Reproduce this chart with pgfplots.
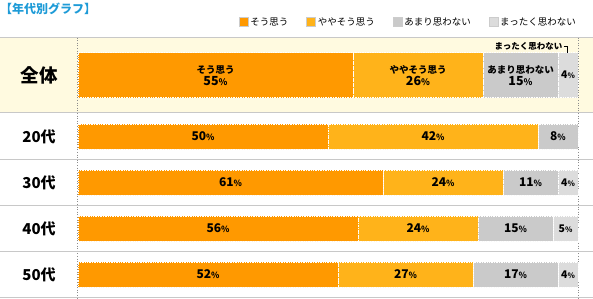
\documentclass[border=0pt]{standalone}
\usepackage{pgfplots}
\pgfplotsset{compat=1.18}
\usepackage{pgfplotstable}
\usepackage{fontspec}
\setmainfont{Noto Sans CJK JP}
\definecolor{cA}{HTML}{FF9900}
\definecolor{cB}{HTML}{FFB31A}
\definecolor{cC}{HTML}{CACACA}
\definecolor{cD}{HTML}{DCDCDC}
\definecolor{cream}{HTML}{FFFAE0}
\definecolor{rule}{HTML}{C8C8C8}
\definecolor{titleblue}{HTML}{1E9BD7}

\pgfplotstableread{
y v1 v2 v3 v4
75.2 55 26 15 4
}\alltab
\pgfplotstableread{
y v1 v2 v3 v4
136.5 50 42 8 0
182.5 61 24 11 4
228.5 56 24 15 5
274.5 52 27 17 4
}\agetab

\pgfplotsset{
 base/.style={scale only axis, width=593pt, height=298pt,
   xmin=-15.6, xmax=103, ymin=0, ymax=298, y dir=reverse,
   xbar stacked, clip=false, axis line style={draw=none},
   xtick=\empty, ytick=\empty, major tick length=0pt},
 seg/.style={fill=#1, draw=white, densely dotted, line width=0.7pt},
 lbl/.style n args={3}{point meta=explicit symbolic,
   nodes near coords={\ifnum\pgfplotspointmeta>0 \pgfplotspointmeta{\fontsize{#3}{8}\selectfont\%}\fi},
   every node near coord/.append style={anchor=center,
     font=\fontsize{#2}{12}\selectfont\bfseries, text=black, solid}},
 lblA/.style 2 args={point meta=explicit symbolic,
   nodes near coords={{\fontsize{9.5}{11}\selectfont #2}\\{\fontsize{12.5}{13}\selectfont\pgfplotspointmeta{\fontsize{9}{9}\selectfont\%}}},
   every node near coord/.append style={anchor=center, align=center,
     font=\bfseries, text=black, solid}},
}

\begin{document}
\begin{tikzpicture}
\begin{axis}[base, name=ax]
  \path[fill=cream] (axis cs:-15.6,37) rectangle (axis cs:103,112.5);
\end{axis}
\begin{axis}[base, bar width=45pt,
  legend columns=4,
  legend image code/.code={\draw[#1, draw=black!20, solid, line width=0.4pt] (0pt,-4.5pt) rectangle (9pt,4.5pt);},
  legend style={at={(axis cs:100,22)}, anchor=east, draw=none, fill=none,
    font=\fontsize{9.5}{10}\selectfont, inner sep=0pt,
    /tikz/every even column/.append style={column sep=16pt}},
  ]
  \draw[rule, line width=1pt] (axis cs:-15.6,37) -- (axis cs:103,37);
  \draw[rule, line width=1pt] (axis cs:-15.6,112.5) -- (axis cs:103,112.5);
  \draw[rule, line width=1pt] (axis cs:-15.6,159.5) -- (axis cs:103,159.5);
  \draw[rule, line width=1pt] (axis cs:-15.6,205.5) -- (axis cs:103,205.5);
  \draw[rule, line width=1pt] (axis cs:-15.6,251.5) -- (axis cs:103,251.5);
  \draw[rule, line width=1pt] (axis cs:-15.6,297.5) -- (axis cs:103,297.5);
  \draw[black!45, dotted, line width=0.6pt] (axis cs:-0.1,37.5) -- (axis cs:-0.1,298);
  \draw[black!45, dotted, line width=0.6pt] (axis cs:100,37.5) -- (axis cs:100,298);
  \addplot[seg=cA, lblA={v1}{そう思う}] table[x=v1, y=y, meta=v1] {\alltab};
  \addlegendentry{そう思う}
  \addplot[seg=cB, lblA={v2}{ややそう思う}] table[x=v2, y=y, meta=v2] {\alltab};
  \addlegendentry{ややそう思う}
  \addplot[seg=cC, lblA={v3}{あまり思わない}] table[x=v3, y=y, meta=v3] {\alltab};
  \addlegendentry{あまり思わない}
  \addplot[seg=cD, lbl={v4}{10.5}{7.5}] table[x=v4, y=y, meta=v4] {\alltab};
  \addlegendentry{まったく思わない}
  \node[anchor=west, text=titleblue, font=\fontsize{12}{12}\selectfont\bfseries, inner sep=0pt] at (axis cs:-15.6,9) {【年代別グラフ】};
  \node[anchor=east, font=\fontsize{8.5}{10}\selectfont\bfseries, inner sep=0pt] at (axis cs:96.9,46) {まったく思わない};
  \draw[black, line width=0.8pt] (axis cs:97.1,46) -- (axis cs:97.9,46) -- (axis cs:97.9,52.5);
  \node[font=\fontsize{18.5}{19}\selectfont\bfseries] at (axis cs:-7.8,75.2) {全体};
  \node[font=\fontsize{15}{15}\selectfont\bfseries] at (axis cs:-7.8,136.5) {20代};
  \node[font=\fontsize{15}{15}\selectfont\bfseries] at (axis cs:-7.8,182.5) {30代};
  \node[font=\fontsize{15}{15}\selectfont\bfseries] at (axis cs:-7.8,228.5) {40代};
  \node[font=\fontsize{15}{15}\selectfont\bfseries] at (axis cs:-7.8,274.5) {50代};
\end{axis}
\begin{axis}[base, bar width=25pt]
  \addplot[seg=cA, lbl={v1}{12}{8.5}] table[x=v1, y=y, meta=v1] {\agetab};
  \addplot[seg=cB, lbl={v2}{12}{8.5}] table[x=v2, y=y, meta=v2] {\agetab};
  \addplot[seg=cC, lbl={v3}{12}{8.5}] table[x=v3, y=y, meta=v3] {\agetab};
  \addplot[seg=cD, lbl={v4}{10.5}{7.5}] table[x=v4, y=y, meta=v4] {\agetab};
\end{axis}
\pgfresetboundingbox
\path (ax.south west) rectangle (ax.north east);
\end{tikzpicture}
\end{document}
